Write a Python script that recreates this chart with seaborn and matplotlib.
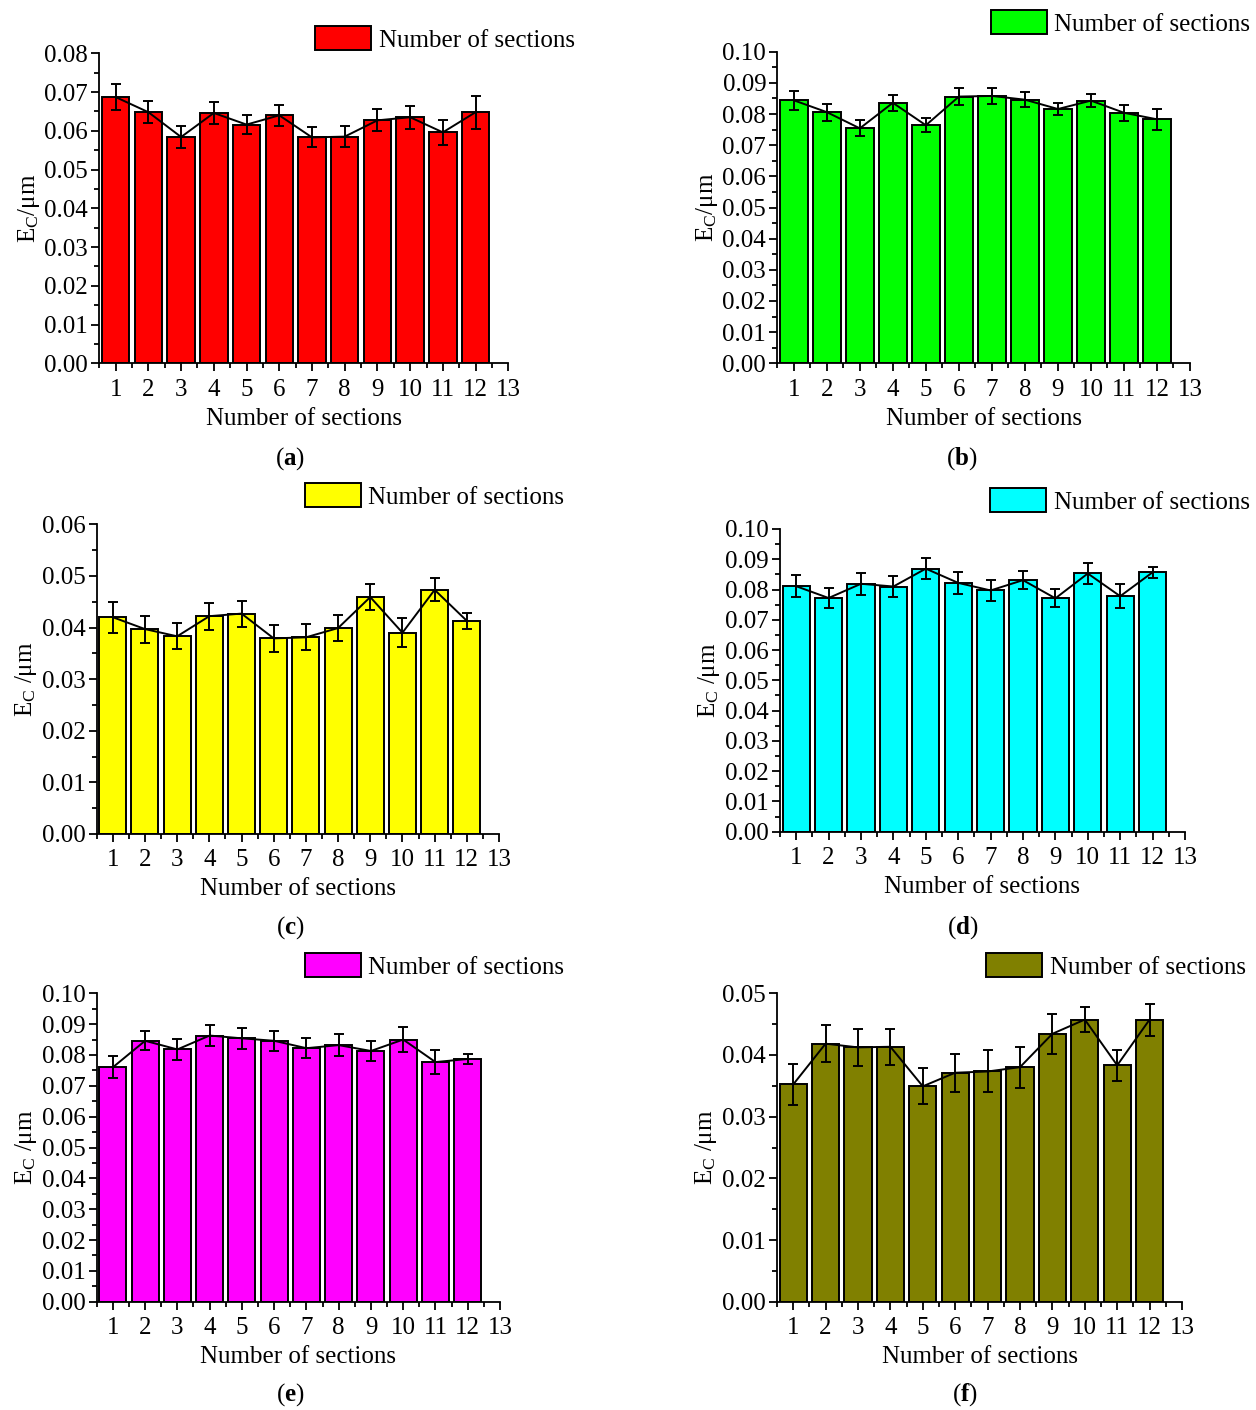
import matplotlib
matplotlib.use("Agg")
import matplotlib.pyplot as plt
from matplotlib.patches import Patch
from matplotlib.ticker import MultipleLocator, FormatStrFormatter
import pandas as pd
import seaborn as sns

# ---- data -------------------------------------------------------------
sections = [1, 2, 3, 4, 5, 6, 7, 8, 9, 10, 11, 12]
x_ticks = [1, 2, 3, 4, 5, 6, 7, 8, 9, 10, 11, 12, 13]

ec_a = [0.0687, 0.0648, 0.0584, 0.0646, 0.0616, 0.0640, 0.0583, 0.0585, 0.0627, 0.0635, 0.0596, 0.0648]
err_a = [0.0033, 0.0029, 0.0028, 0.0028, 0.0024, 0.0027, 0.0026, 0.0027, 0.0028, 0.0030, 0.0032, 0.0043]

ec_b = [0.0844, 0.0806, 0.0754, 0.0836, 0.0764, 0.0856, 0.0858, 0.0846, 0.0816, 0.0843, 0.0804, 0.0783]
err_b = [0.0030, 0.0027, 0.0026, 0.0026, 0.0023, 0.0026, 0.0025, 0.0025, 0.0018, 0.0021, 0.0025, 0.0033]

ec_c = [0.0420, 0.0397, 0.0383, 0.0422, 0.0427, 0.0379, 0.0381, 0.0399, 0.0459, 0.0390, 0.0473, 0.0413]
err_c = [0.0030, 0.0026, 0.0025, 0.0026, 0.0025, 0.0026, 0.0025, 0.0025, 0.0026, 0.0028, 0.0022, 0.0015]

ec_d = [0.0811, 0.0772, 0.0819, 0.0810, 0.0869, 0.0822, 0.0797, 0.0831, 0.0771, 0.0853, 0.0778, 0.0857]
err_d = [0.0037, 0.0033, 0.0036, 0.0034, 0.0035, 0.0037, 0.0035, 0.0030, 0.0030, 0.0034, 0.0039, 0.0018]

ec_e = [0.0760, 0.0846, 0.0818, 0.0863, 0.0854, 0.0846, 0.0822, 0.0832, 0.0813, 0.0850, 0.0777, 0.0787]
err_e = [0.0036, 0.0031, 0.0033, 0.0034, 0.0034, 0.0033, 0.0033, 0.0036, 0.0033, 0.0040, 0.0039, 0.0016]

ec_f = [0.0352, 0.0418, 0.0412, 0.0413, 0.0349, 0.0371, 0.0373, 0.0380, 0.0434, 0.0457, 0.0383, 0.0457]
err_f = [0.0033, 0.0030, 0.0030, 0.0029, 0.0029, 0.0031, 0.0034, 0.0033, 0.0032, 0.0020, 0.0025, 0.0026]

legend_label = "Number of sections"
x_label = "Number of sections"

# ---- style ------------------------------------------------------------
sns.set_theme(style="ticks")
plt.rcParams.update({
    "font.family": ["Liberation Serif", "DejaVu Serif"],
    "mathtext.fontset": "custom",
    "mathtext.rm": "Liberation Serif",
    "mathtext.it": "Liberation Serif:italic",
    "mathtext.bf": "Liberation Serif:bold",
    "font.size": 18,
    "axes.linewidth": 1.3,
    "axes.edgecolor": "black",
    "xtick.color": "black",
    "ytick.color": "black",
    "axes.labelcolor": "black",
    "text.color": "black",
})

LW = 1.4

W, H = 1256, 1410
fig = plt.figure(figsize=(W / 100, H / 100), dpi=100)


def px_rect(l, r, t, b):
    return [l / W, 1 - b / H, (r - l) / W, (b - t) / H]


panels = [
    dict(vals=ec_a, errs=err_a, color="#FF0000", ymax=0.08, ylab=r"E$_\mathrm{C}$/μm",
         rect=(99.3, 508.3, 53.3, 363.3), leg=(315, 26), tag="a", tagpos=(290, 459)),
    dict(vals=ec_b, errs=err_b, color="#00FF00", ymax=0.10, ylab=r"E$_\mathrm{C}$/μm",
         rect=(777.3, 1190, 51.7, 363.3), leg=(991, 10), tag="b", tagpos=(962, 459)),
    dict(vals=ec_c, errs=err_c, color="#FFFF00", ymax=0.06, ylab=r"E$_\mathrm{C}$ /μm",
         rect=(96.7, 499, 524.3, 834), leg=(305, 483), tag="c", tagpos=(290, 928)),
    dict(vals=ec_d, errs=err_d, color="#00FFFF", ymax=0.10, ylab=r"E$_\mathrm{C}$ /μm",
         rect=(780, 1185, 529, 831.7), leg=(990, 488), tag="d", tagpos=(963, 928)),
    dict(vals=ec_e, errs=err_e, color="#FF00FF", ymax=0.10, ylab=r"E$_\mathrm{C}$ /μm",
         rect=(96.7, 500, 993.3, 1301.7), leg=(305, 953), tag="e", tagpos=(290, 1395)),
    dict(vals=ec_f, errs=err_f, color="#808000", ymax=0.05, ylab=r"E$_\mathrm{C}$ /μm",
         rect=(777, 1182, 993, 1302), leg=(986, 953), tag="f", tagpos=(965, 1395)),
]

for p in panels:
    ax = fig.add_axes(px_rect(*p["rect"]))
    df = pd.DataFrame({"section": sections, "ec": p["vals"], "err": p["errs"]})

    sns.barplot(data=df, x="section", y="ec", native_scale=True, width=0.84,
                color=p["color"], saturation=1, edgecolor="black", linewidth=LW,
                errorbar=None, ax=ax, zorder=2)
    sns.lineplot(data=df, x="section", y="ec", color="black", linewidth=LW,
                 ax=ax, zorder=3)
    ax.errorbar(df["section"], df["ec"], yerr=df["err"], fmt="none", ecolor="black",
                elinewidth=LW, capsize=3.5, capthick=LW, zorder=4)

    ax.set_xlim(0.5, 13)
    ax.set_ylim(0, p["ymax"])
    ax.set_xticks(x_ticks)
    ax.set_xticklabels([str(t) for t in x_ticks])
    ax.xaxis.set_minor_locator(MultipleLocator(0.5))
    ax.yaxis.set_major_locator(MultipleLocator(0.01))
    ax.yaxis.set_minor_locator(MultipleLocator(0.005))
    ax.yaxis.set_major_formatter(FormatStrFormatter("%.2f"))
    ax.tick_params(which="major", direction="out", length=6, width=1.3, labelsize=18)
    ax.tick_params(axis="x", which="major", pad=5)
    ax.tick_params(axis="y", which="major", pad=2)
    ax.tick_params(which="minor", direction="out", length=3.5, width=1.3)
    sns.despine(ax=ax)

    ax.set_xlabel(x_label, fontsize=18, labelpad=5)
    ax.set_ylabel(p["ylab"], fontsize=18, labelpad=2)

    lx, ly = p["leg"]
    handle = Patch(facecolor=p["color"], edgecolor="black", linewidth=LW)
    fig.legend([handle], [legend_label], loc="upper left",
               bbox_to_anchor=(lx / W, 1 - ly / H), bbox_transform=fig.transFigure,
               frameon=False, fontsize=18, borderpad=0, borderaxespad=0,
               handlelength=2.24, handleheight=1.12, handletextpad=0.3)

    tx, ty = p["tagpos"]
    fig.text(tx / W, 1 - ty / H, r"(" + r"$\mathbf{" + p["tag"] + r"}$" + r")",
             ha="center", va="center", fontsize=18)

fig.savefig("out.png", dpi=100, facecolor="white")
